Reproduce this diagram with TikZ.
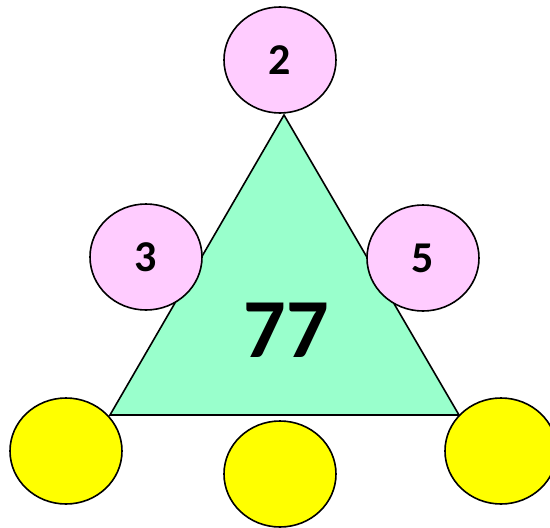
\documentclass[tikz,border=0pt]{standalone}
\usepackage{fontspec}
\setmainfont{Carlito}
\usetikzlibrary{shapes.geometric}
\definecolor{pinkc}{HTML}{FFCCFF}
\definecolor{greenc}{HTML}{99FFCC}
\definecolor{yellowc}{HTML}{FFFF00}
\begin{document}
\begin{tikzpicture}[x=1pt,y=-1pt,
  ball/.style={draw=black,line width=1.6pt,ellipse,minimum width=112pt,minimum height=106pt,inner sep=0pt},
  pinkball/.style={ball,fill=pinkc,font=\fontsize{44}{44}\selectfont\bfseries},
  yellowball/.style={ball,fill=yellowc}]
\useasboundingbox (0,0) rectangle (550,528);
\clip (0,0) rectangle (550,528);
\coordinate (apex) at (284,115);
\coordinate (bl) at (110,415);
\coordinate (br) at (459,415);
\draw[line width=1.6pt,fill=greenc,line join=miter] (apex) -- (bl) -- (br) -- cycle;
\node[font=\fontsize{84}{84}\selectfont\bfseries] (total) at (286,330) {77};
\node[pinkball] (two) at (280,60) {2};
\node[pinkball] (three) at (146,257) {3};
\node[pinkball] (five) at (423,258) {5};
\node[yellowball] (yl) at (66,451) {};
\node[yellowball] (ym) at (280,474) {};
\node[yellowball] (yr) at (501,451) {};
\end{tikzpicture}
\end{document}
